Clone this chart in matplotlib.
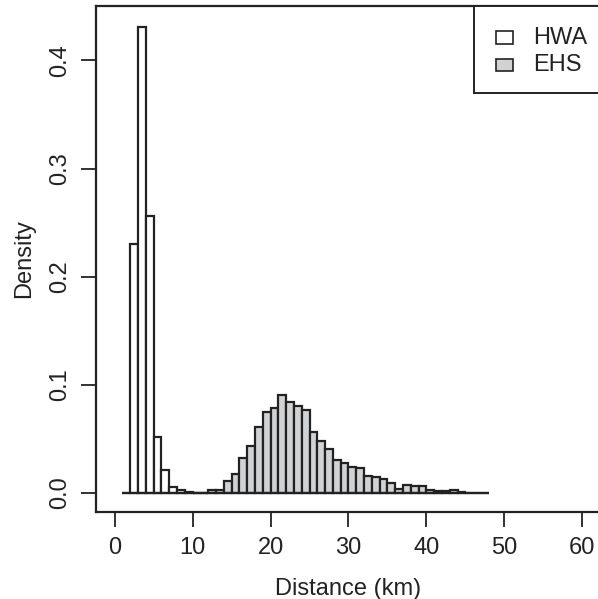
import numpy as np
import matplotlib
matplotlib.use("Agg")
import matplotlib.pyplot as plt
from matplotlib.patches import Rectangle

plt.rcParams['font.family'] = ['Liberation Sans', 'DejaVu Sans']

# ---- data (density per 1-km bin) ----
hwa_start = 1
hwa_density = [0.0, 0.230, 0.431, 0.256, 0.052, 0.0215, 0.0055, 0.003, 0.001, 0.0, 0.0]
ehs_start = 10
ehs_density = [0.0, 0.0, 0.0025, 0.0025, 0.0114, 0.0175, 0.0323, 0.0434, 0.0609, 0.0745,
               0.0785, 0.0902, 0.084, 0.080, 0.0763, 0.0563, 0.0483, 0.0403, 0.0308, 0.028,
               0.024, 0.0234, 0.016, 0.0151, 0.0126, 0.0095, 0.004, 0.0077, 0.0062, 0.0068,
               0.0031, 0.0022, 0.0022, 0.0025, 0.0012, 0.0, 0.0, 0.0]
series_labels = ["HWA", "EHS"]
x_ticks = [0, 10, 20, 30, 40, 50, 60]
y_ticks = [0.0, 0.1, 0.2, 0.3, 0.4]

W, H = 598, 599
fig = plt.figure(figsize=(W / 100, H / 100), dpi=100)
left, right, bottom, top = 96, 601, 511.7, 6
ax = fig.add_axes([left / W, (H - bottom) / H, (right - left) / W, (bottom - top) / H])

edge = "#222222"
fill_ehs = "#d0d2d3"
lw = 1.6
fs = 17

hx = hwa_start + np.arange(len(hwa_density))
ax.bar(hx, hwa_density, width=1.0, align='edge', facecolor='white', edgecolor=edge, linewidth=lw)
ex = ehs_start + np.arange(len(ehs_density))
ax.bar(ex, ehs_density, width=1.0, align='edge', facecolor=fill_ehs, edgecolor=edge, linewidth=lw)
# zero-height bins drawn as baseline (as R hist does)
ax.hlines(0, hwa_start, ehs_start + len(ehs_density), color=edge, linewidth=lw, zorder=3)

ax.set_xlim(-2.4, 62.4)
ax.set_ylim(-0.0173, 0.4503)
ax.set_xticks(x_ticks)
ax.set_xticklabels([str(v) for v in x_ticks])
ax.set_yticks(y_ticks)
ax.set_yticklabels([f"{v:.1f}" for v in y_ticks], rotation=90, va='center')

for s in ax.spines.values():
    s.set_linewidth(1.6)
    s.set_color(edge)
ax.spines['right'].set_visible(False)

ax.tick_params(axis='both', length=11, width=1.3, color=edge, labelsize=fs, labelcolor='#222222')
ax.tick_params(axis='x', pad=7)
ax.tick_params(axis='y', pad=7)

ax.set_xlabel("Distance (km)", fontsize=fs, color='#222222', labelpad=14)
ax.set_ylabel("Density", fontsize=fs, color='#222222', labelpad=10)

# ---- legend (R-style, top-right) ----
def px(x, y):
    return x / W, (H - y) / H

lx0, ly0 = px(474, 93)
fig.patches.append(Rectangle((lx0, ly0), (620 - 474) / W, (93 - 6) / H, transform=fig.transFigure,
                             facecolor='white', edgecolor=edge, linewidth=1.4, zorder=5))
fills = ['white', fill_ehs]
centers = [37.5, 65]
for lab, fc, cy in zip(series_labels, fills, centers):
    sx, sy = px(496, cy + 6)
    fig.patches.append(Rectangle((sx, sy), 17 / W, 12 / H, transform=fig.transFigure,
                                 facecolor=fc, edgecolor=edge, linewidth=1.2, zorder=6))
    tx, ty = px(533, cy)
    fig.text(tx, ty, lab, fontsize=fs, color='#222222', va='center', ha='left', zorder=7)

fig.savefig("out.png", dpi=100)
